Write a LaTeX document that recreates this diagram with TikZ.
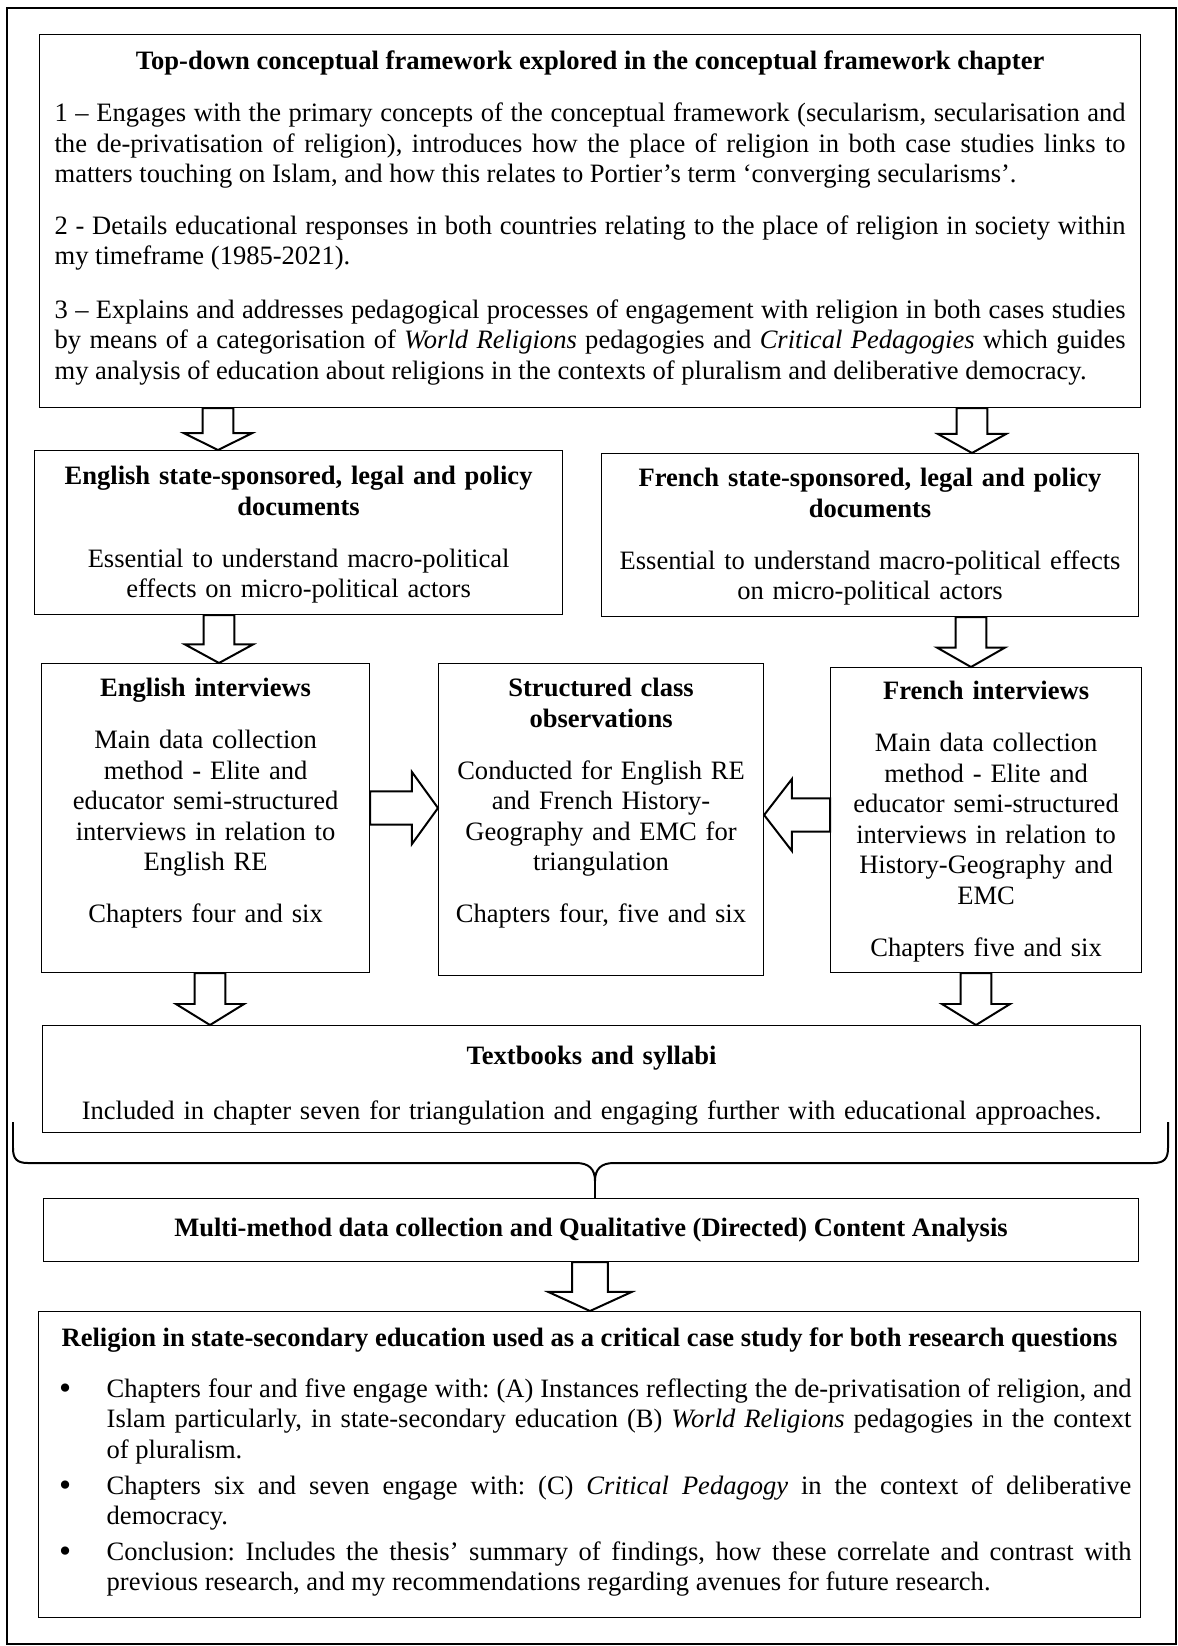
\documentclass[tikz,border=0pt]{standalone}
\usepackage{fontspec}
\usepackage{graphicx}
\setmainfont{Liberation Serif}
\usetikzlibrary{calc}
\newcommand{\thesisfont}{\fontsize{12}{13.8}\selectfont\frenchspacing}
\newcommand{\thesisitem}{\par\noindent\hangindent=26.7pt\hangafter=1\makebox[26.7pt][l]{\hspace{5.2pt}\raisebox{-1.1pt}{\scalebox{1.3}{\textbullet}}}}
\tikzset{
  bshaft/.store in=\bshaft, bwing/.store in=\bwing, bhead/.store in=\bhead,
  bshaft=7pt, bwing=15.4pt, bhead=8pt,
  thesisbox/.style={draw, line width=0.5pt, anchor=north west, inner xsep=0pt, inner ysep=0pt, font=\thesisfont},
  blockdown/.style={draw, fill=white, line width=0.9pt, to path={let \p1=(\tikztostart), \p2=(\tikztotarget) in
    (\x1-\bshaft,\y1) -- (\x1-\bshaft,\y2+\bhead) -- (\x1-\bwing,\y2+\bhead) -- (\x1,\y2)
    -- (\x1+\bwing,\y2+\bhead) -- (\x1+\bshaft,\y2+\bhead) -- (\x1+\bshaft,\y1) -- cycle}},
  blockside/.style={draw, fill=white, line width=0.9pt, to path={let \p1=(\tikztostart), \p2=(\tikztotarget), \n1={sign(\x2-\x1)} in
    (\x1,\y1+\bshaft) -- ({\x2-\bhead*\n1},\y1+\bshaft) -- ({\x2-\bhead*\n1},\y1+\bwing) -- (\x2,\y1)
    -- ({\x2-\bhead*\n1},\y1-\bwing) -- ({\x2-\bhead*\n1},\y1-\bshaft) -- (\x1,\y1-\bshaft) -- cycle}},
  bracepath/.style={draw, line width=0.9pt}
}
\begin{document}
\begin{tikzpicture}[x=0.452pt, y=-0.452pt]
\useasboundingbox (0,0) rectangle (1178,1646);
\draw[line width=1pt] (7,8) rectangle (1176,1644);

\node[thesisbox, text width=484.1pt, inner xsep=6.8pt, text height=15.8pt, text depth=152.8pt, align=justify] (topbox) at (39,34) {%
{\centering\bfseries Top-down conceptual framework explored in the conceptual framework chapter\par}\vspace{9.7pt}
1 – Engages with the primary concepts of the conceptual framework (secularism, secularisation and\linebreak
the de-privatisation of religion), introduces how the place of religion in both case studies links to\linebreak
matters touching on Islam, and how this relates to Portier’s term ‘converging secularisms’.\par\vspace{9.5pt}
2 - Details educational responses in both countries relating to the place of religion in society within\linebreak
my timeframe (1985-2021).\par\vspace{10.5pt}
3 – Explains and addresses pedagogical processes of engagement with religion in both cases studies\linebreak
by means of a categorisation of \textit{World Religions} pedagogies and \textit{Critical Pedagogies} which guides\linebreak
my analysis of education about religions in the contexts of pluralism and deliberative democracy.};

\node[thesisbox, text width=238.7pt, text height=15.4pt, text depth=58.7pt, align=center] (engdoc) at (34,450) {%
\textbf{English state-sponsored, legal and policy}\\\textbf{documents}\\[9.7pt]
Essential to understand macro-political\\effects on micro-political actors};
\node[thesisbox, text width=242.7pt, text height=14.9pt, text depth=58.8pt, align=center] (fredoc) at (601,453) {%
\textbf{French state-sponsored, legal and policy}\\\textbf{documents}\\[9.7pt]
Essential to understand macro-political effects\\on micro-political actors};

\node[thesisbox, text width=148.3pt, text height=14.9pt, text depth=124.8pt, align=center] (engint) at (41,663) {%
\textbf{English interviews}\\[9.7pt]
Main data collection\\method - Elite and\\educator semi-structured\\interviews in relation to\\English RE\\[9.7pt]
Chapters four and six};
\node[thesisbox, text width=146.9pt, text height=14.9pt, text depth=126.1pt, align=center] (struct) at (438,663) {%
\textbf{Structured class}\\\textbf{observations}\\[9.7pt]
Conducted for English RE\\and French History-\\Geography and EMC for\\triangulation\\[9.7pt]
Chapters four, five and six};
\node[thesisbox, text width=140.6pt, text height=14.5pt, text depth=123.4pt, align=center] (freint) at (830,667) {%
\textbf{French interviews}\\[9.7pt]
Main data collection\\method - Elite and\\educator semi-structured\\interviews in relation to\\History-Geography and\\EMC\\[9.7pt]
Chapters five and six};

\node[thesisbox, text width=496.3pt, text height=17.6pt, text depth=30.8pt, align=center] (books) at (42,1025) {%
\textbf{Textbooks and syllabi}\\[11.1pt]
Included in chapter seven for triangulation and engaging further with educational approaches.};

\node[thesisbox, minimum width=494.9pt, minimum height=28.5pt, align=center] (multi) at (43,1198) {%
\textbf{Multi-method data collection and Qualitative (Directed) Content Analysis}};

\node[thesisbox, text width=489.9pt, inner xsep=4.1pt, text height=15.8pt, text depth=122.5pt, align=justify] (relig) at (38,1311) {%
{\centering\bfseries Religion in state-secondary education used as a critical case study for both research questions\par}\vspace{9.2pt}
\thesisitem Chapters four and five engage with: (A) Instances reflecting the de-privatisation of religion, and\linebreak
Islam particularly, in state-secondary education (B) \textit{World Religions} pedagogies in the context\linebreak
of pluralism.\par\vspace{2.3pt}
\thesisitem Chapters six and seven engage with: (C) \textit{Critical Pedagogy} in the context of deliberative\linebreak
democracy.\par\vspace{2.3pt}
\thesisitem Conclusion: Includes the thesis’ summary of findings, how these correlate and contrast with\linebreak
previous research, and my recommendations regarding avenues for future research.\par};

\draw[blockdown, bhead=7.6pt] (218,0 |- topbox.south) to (218,0 |- engdoc.north);
\draw[blockdown, bhead=8.6pt] (972,0 |- topbox.south) to (972,0 |- fredoc.north);
\draw[blockdown, bhead=8.4pt] (219,0 |- engdoc.south) to (219,0 |- engint.north);
\draw[blockdown, bhead=8.8pt] (971,0 |- fredoc.south) to (971,0 |- freint.north);
\draw[blockside, bshaft=7.5pt, bwing=16.3pt, bhead=11.8pt] (0,808 -| engint.east) to (0,808 -| struct.west);
\draw[blockside, bshaft=7.5pt, bwing=16.3pt, bhead=12.6pt] (0,815 -| freint.west) to (0,815 -| struct.east);
\draw[blockdown, bhead=9.5pt] (210,0 |- engint.south) to (210,0 |- books.north);
\draw[blockdown, bhead=9.5pt] (976,0 |- freint.south) to (976,0 |- books.north);
\draw[blockdown, bshaft=8.1pt, bwing=18.8pt, bhead=8.6pt] (590,0 |- multi.south) to (590,0 |- relig.north);

\coordinate (bracetip) at (595,1181);
\draw[bracepath] (13,1122) -- (13,1148) .. controls (13,1159) and (17,1163) .. (28,1163) -- (576,1163)
  .. controls (589,1163) and (595,1169) .. (bracetip) .. controls (595,1169) and (601,1163) .. (614,1163)
  -- (1153,1163) .. controls (1164,1163) and (1168,1159) .. (1168,1148) -- (1168,1122);
\draw[line width=0.9pt] (bracetip) -- (bracetip |- multi.north);
\end{tikzpicture}
\end{document}
